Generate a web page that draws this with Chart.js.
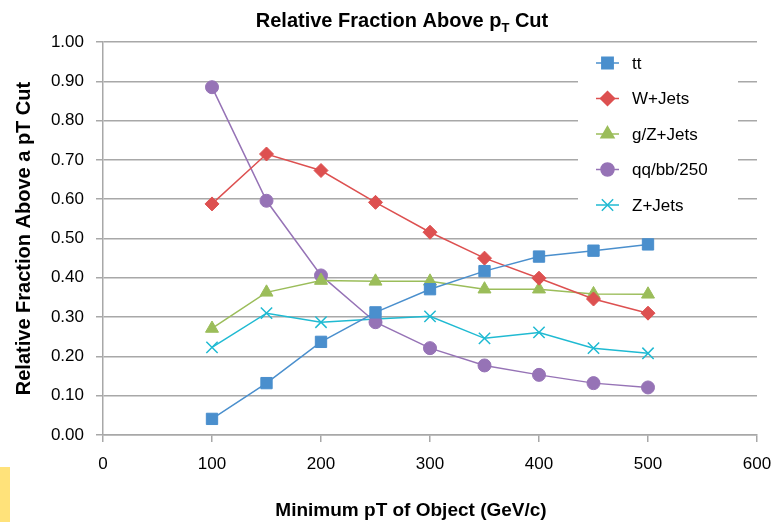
<!DOCTYPE html>
<html>
<head>
<meta charset="utf-8">
<script src="https://cdn.jsdelivr.net/npm/chart.js"></script>
<style>
  html, body { margin: 0; padding: 0; background: #fff; }
  #wrap { position: relative; width: 775px; height: 522px; }
  #mark { position: absolute; left: 0; top: 467px; width: 10px; height: 55px; background: #ffe27a; }
</style>
</head>
<body>
<div id="wrap">
  <canvas id="chart" width="775" height="522"></canvas>
  <div id="mark"></div>
</div>
<script>
// values
const ptCuts = [100, 150, 200, 250, 300, 350, 400, 450, 500];
const ttFrac = [0.041, 0.132, 0.237, 0.312, 0.371, 0.417, 0.454, 0.469, 0.485];
const wJets = [0.588, 0.715, 0.673, 0.592, 0.516, 0.450, 0.399, 0.346, 0.310];
const gzJets = [0.271, 0.363, 0.393, 0.391, 0.391, 0.371, 0.371, 0.359, 0.358];
const qqbb = [0.885, 0.596, 0.406, 0.287, 0.221, 0.177, 0.153, 0.132, 0.121];
const zJets = [0.223, 0.310, 0.287, 0.295, 0.302, 0.246, 0.261, 0.221, 0.208];
const seriesNames = ['tt', 'W+Jets', 'g/Z+Jets', 'qq/bb/250', 'Z+Jets'];
const xTicks = [0, 100, 200, 300, 400, 500, 600];

const FONT = "'Liberation Sans', Arial, sans-serif";
const GRID = '#a8a8a8';

const toPoints = vals => vals.map((v, i) => ({ x: ptCuts[i], y: v }));

const mkSet = (label, vals, color, style, r) => ({
    label: label,
    data: toPoints(vals),
    borderColor: color,
    backgroundColor: color,
    pointBackgroundColor: color,
    pointBorderColor: color,
    borderWidth: 1.5,
    pointStyle: style,
    pointRadius: r,
    pointBorderWidth: style === 'crossRot' ? 1.5 : 1,
    pointHoverRadius: r,
    tension: 0,
    fill: false
});

const datasets = [
    mkSet(seriesNames[0], ttFrac, '#4a8fcd', 'rect', 8),
    mkSet(seriesNames[1], wJets, '#dd5050', 'rectRot', 7),
    mkSet(seriesNames[2], gzJets, '#9bbd5a', 'triangle', 7.5),
    mkSet(seriesNames[3], qqbb, '#9673b6', 'circle', 6.5),
    mkSet(seriesNames[4], zJets, '#1fbad2', 'crossRot', 8)
];

// title with subscript T, x-axis title, and the boxed legend
const extras = {
    id: 'extras',
    afterDraw(chart) {
        const ctx = chart.ctx;
        ctx.save();
        ctx.fillStyle = '#000';
        ctx.textBaseline = 'alphabetic';

        // chart title
        const a = 'Relative Fraction Above p', b = 'T', c = ' Cut';
        ctx.font = 'bold 20px ' + FONT;
        const wa = ctx.measureText(a).width, wc = ctx.measureText(c).width;
        ctx.font = 'bold 13px ' + FONT;
        const wb = ctx.measureText(b).width;
        let x = 402 - (wa + wb + wc) / 2;
        ctx.textAlign = 'left';
        ctx.font = 'bold 20px ' + FONT;
        ctx.fillText(a, x, 27);
        ctx.font = 'bold 13px ' + FONT;
        ctx.fillText(b, x + wa, 32);
        ctx.font = 'bold 20px ' + FONT;
        ctx.fillText(c, x + wa + wb, 27);

        // x axis title
        ctx.textAlign = 'center';
        ctx.font = 'bold 19px ' + FONT;
        ctx.fillText('Minimum pT of Object (GeV/c)', 411, 516);

        // legend
        ctx.fillStyle = '#fff';
        ctx.fillRect(578, 47, 160, 180);
        chart.data.datasets.forEach((ds, i) => {
            const y = 63 + i * 35.5;
            ctx.strokeStyle = ds.borderColor;
            ctx.lineWidth = 1.5;
            ctx.beginPath();
            ctx.moveTo(596, y);
            ctx.lineTo(619, y);
            ctx.stroke();
            ctx.fillStyle = ds.backgroundColor;
            Chart.helpers.drawPoint(ctx, {
                pointStyle: ds.pointStyle,
                radius: ds.pointRadius,
                rotation: 0,
                borderWidth: ds.pointBorderWidth
            }, 607.5, y);
            ctx.fillStyle = '#000';
            ctx.textAlign = 'left';
            ctx.textBaseline = 'middle';
            ctx.font = '17px ' + FONT;
            ctx.fillText(ds.label, 632, y + 1);
        });
        ctx.restore();
    }
};

new Chart(document.getElementById('chart'), {
    type: 'line',
    data: { datasets: datasets },
    plugins: [extras],
    options: {
        responsive: false,
        animation: false,
        layout: { padding: { top: 42, right: 18, left: 0, bottom: 0 } },
        plugins: {
            legend: { display: false },
            tooltip: { enabled: false },
            title: { display: false }
        },
        scales: {
            x: {
                type: 'linear',
                min: 0,
                max: 600,
                afterFit: s => { s.height = 87; s.paddingLeft = 0; s.paddingRight = 0; },
                afterBuildTicks: s => { s.ticks = xTicks.map(v => ({ value: v })); },
                grid: { drawOnChartArea: false, drawTicks: true, tickLength: 7, color: GRID, lineWidth: 1.5 },
                border: { color: GRID, width: 1.5 },
                ticks: { font: { family: FONT, size: 17 }, color: '#000', padding: 12, maxRotation: 0 }
            },
            y: {
                min: 0,
                max: 1,
                afterFit: s => { s.width = 103; s.paddingTop = 0; s.paddingBottom = 0; },
                grid: { color: GRID, lineWidth: 1.5, tickLength: 7 },
                border: { color: GRID, width: 1.5 },
                ticks: {
                    stepSize: 0.1,
                    font: { family: FONT, size: 17 },
                    color: '#000',
                    padding: 12,
                    callback: v => v.toFixed(2)
                },
                title: {
                    display: true,
                    text: 'Relative Fraction Above a pT Cut',
                    font: { family: FONT, size: 20, weight: 'bold' },
                    color: '#000',
                    padding: { top: 12, bottom: 0 }
                }
            }
        }
    }
});
</script>
</body>
</html>
